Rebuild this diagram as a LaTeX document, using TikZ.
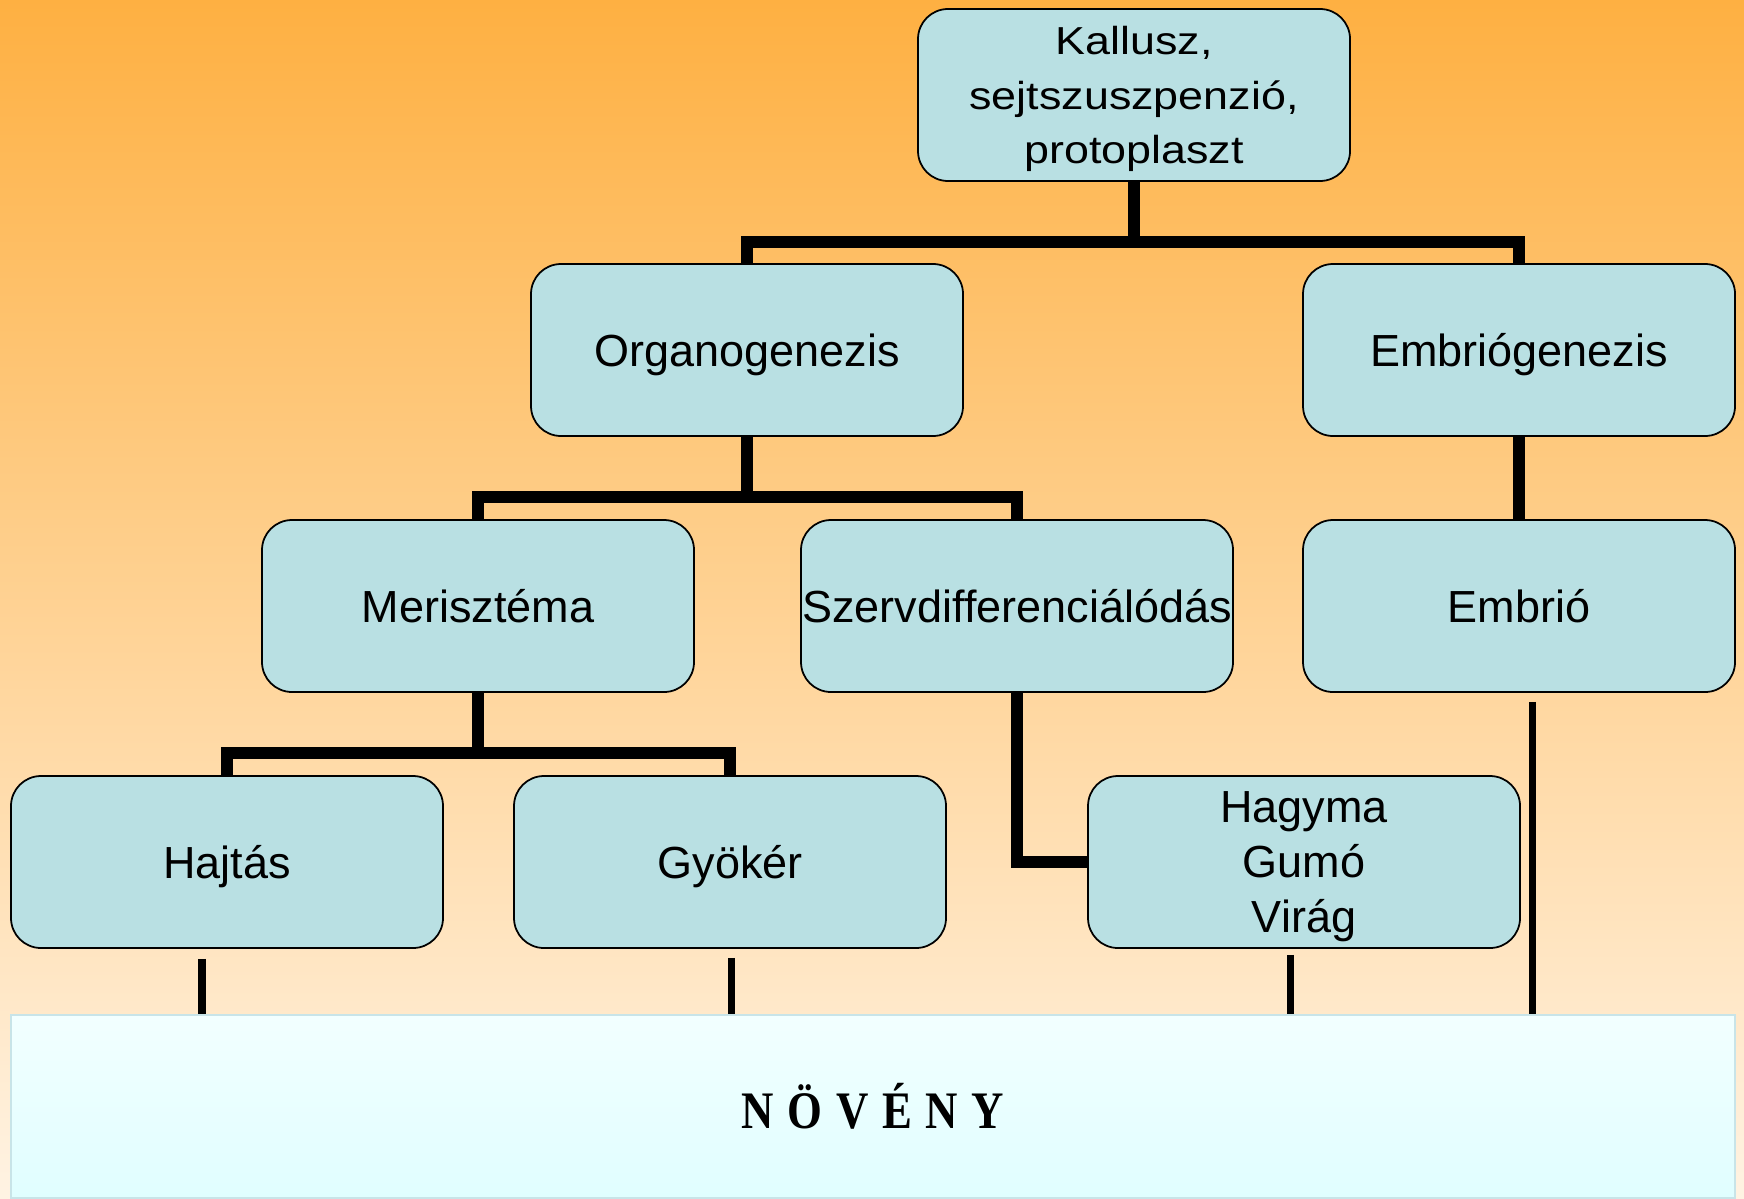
\documentclass[tikz,border=0pt]{standalone}
\usepackage{fontspec}
\setmainfont{Liberation Sans}
\newfontfamily\widesans{Liberation Sans}[FakeStretch=1.15]
\newfontfamily\plantfont{Liberation Serif}[FakeStretch=0.85,LetterSpace=26]
\usepackage{xcolor}
\definecolor{bgtop}{RGB}{254, 176, 66}
\definecolor{bgmid}{RGB}{255, 221, 172}
\definecolor{bgbot}{RGB}{255, 243, 227}
\definecolor{boxblue}{RGB}{185, 224, 227}
\definecolor{plantl}{RGB}{242, 255, 255}
\definecolor{plantd}{RGB}{224, 254, 255}
\definecolor{plantedge}{RGB}{200, 228, 232}
\usepackage{tikz}
\usetikzlibrary{calc}

\begin{document}
\begin{tikzpicture}[
  box/.style={draw=black, line width=0.5pt, fill=boxblue, rounded corners=3mm, align=center, minimum width=4.32cm, minimum height=1.72cm, inner sep=0pt, text depth=0pt, font=\fontsize{12.8}{15.6}\selectfont},
  plantbox/.style={draw=plantedge, line width=0.6pt, top color=plantl, bottom color=plantd, minimum width=17.24cm, minimum height=1.83cm, inner sep=0pt, font=\plantfont\bfseries\fontsize{15}{17}\selectfont},
  trunk/.style={line width=3.4pt, line join=miter},
  leg/.style={line width=2pt}
]
  \useasboundingbox (0,0) rectangle (17.44,-11.98);
  \fill[top color=bgtop, middle color=bgmid, bottom color=bgbot] (0,0) rectangle (17.44,-11.98);

  % Boxes
  \node[box, font=\widesans\fontsize{11.1}{15.5}\selectfont] (kallusz) at (11.34,-0.95) {Kallusz,\\ sejtszuszpenzió,\\ protoplaszt};
  \node[box] (organo)    at (7.47,-3.50)  {Organogenezis};
  \node[box] (embriogen) at (15.19,-3.50) {Embriógenezis};
  \node[box] (meriszt)   at (4.78,-6.06)  {Merisztéma};
  \node[box] (szerv)     at (10.17,-6.06) {Szervdifferenciálódás};
  \node[box] (embrio)    at (15.19,-6.06) {Embrió};
  \node[box] (hajtas)    at (2.27,-8.62)  {Hajtás};
  \node[box] (gyoker)    at (7.30,-8.62)  {Gyökér};
  \node[box] (hagyma)    at (13.04,-8.62) {Hagyma\\ Gumó\\ Virág};
  \node[plantbox] (noveny) at (8.73,-11.065) {NÖVÉNY};

  % Tree
  \draw[trunk] (kallusz.south) -- ++(0,-0.6) coordinate (j1);
  \draw[trunk] (organo.north) |- (j1) -| (embriogen.north);
  \draw[trunk] (organo.south) -- ++(0,-0.6) coordinate (j2);
  \draw[trunk] (meriszt.north) |- (j2) -| (szerv.north);
  \draw[trunk] (meriszt.south) -- ++(0,-0.6) coordinate (j3);
  \draw[trunk] (hajtas.north) |- (j3) -| (gyoker.north);
  \draw[trunk] (szerv.south) |- (hagyma.west);
  \draw[trunk] (embriogen.south) -- (embrio.north);

  % Down to the plant
  \foreach \n/\dx/\dy in {hajtas/-2.5/-1, gyoker/0.15/-0.9, hagyma/-1.4/-0.6, embrio/1.3/-0.9} {
    \draw[leg] ([xshift=\dx mm, yshift=\dy mm]\n.south) coordinate (t\n) -- (t\n |- noveny.north);
  }
\end{tikzpicture}
\end{document}
